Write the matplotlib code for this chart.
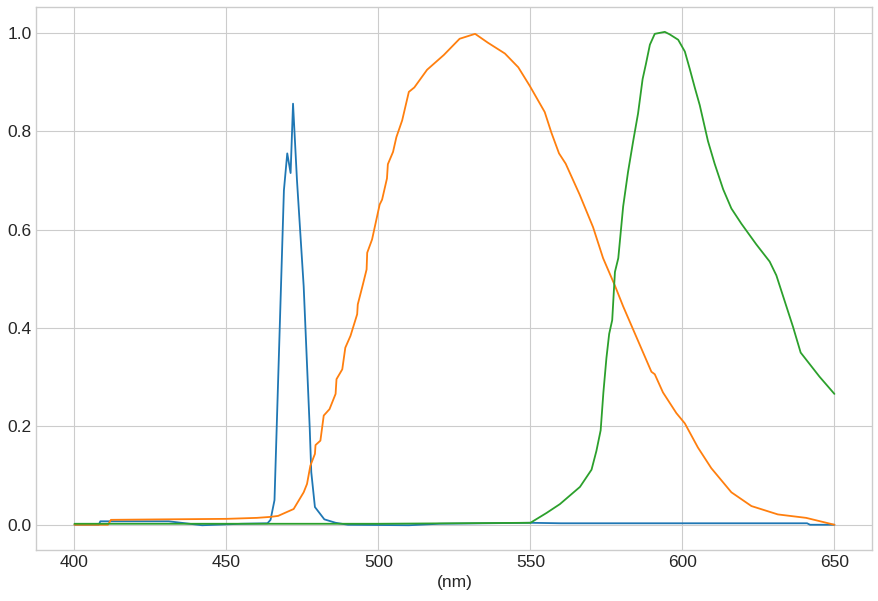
import matplotlib
matplotlib.use('Agg')
import matplotlib.pyplot as plt

plt.style.use('seaborn-v0_8-whitegrid')
plt.rcParams['font.family'] = ['Liberation Sans', 'DejaVu Sans']

# Blue channel response
wl_blue = [400, 408, 408.5, 431, 442, 455, 463.5, 464.5, 465.8, 468.9, 470, 471.1,
           471.9, 473.2, 475.4, 477.4, 477.9, 479.1, 482.2, 485.9, 490, 510, 520,
           550, 560, 600, 641, 642, 650]
resp_blue = [0, 0, 0.007, 0.007, -0.001, 0.002, 0.003, 0.01, 0.05, 0.68, 0.755, 0.715,
             0.856, 0.70, 0.485, 0.195, 0.107, 0.036, 0.011, 0.004, 0.0, -0.001, 0.002,
             0.004, 0.003, 0.003, 0.003, 0, 0]

# Green channel response (drawn orange)
wl_green = [400, 411, 412, 430, 450, 460, 464.5, 467, 472.1, 475.4, 476.5, 477.6, 479.1,
            479.3, 480.9, 482, 483.9, 485.9, 486.2, 488.1, 489.1, 490.8, 493, 493.2, 494.9,
            496.1, 496.3, 497.9, 500.4, 501.2, 502.8, 503.1, 504.8, 505.9, 507.8, 510,
            511.8, 516, 521.5, 526.7, 531.8, 536, 541.6, 546, 549.8, 554.7, 556.9, 559.4,
            561.6, 566.2, 570.6, 573.9, 577.8, 580.5, 589.8, 590.9, 593.6, 598, 600.8,
            605.1, 609.5, 616.1, 622.7, 631.4, 640.7, 650]
resp_green = [0, 0, 0.010, 0.011, 0.012, 0.014, 0.016, 0.018, 0.032, 0.066, 0.083, 0.12,
              0.144, 0.162, 0.171, 0.222, 0.235, 0.266, 0.296, 0.316, 0.36, 0.384, 0.428,
              0.448, 0.489, 0.519, 0.553, 0.58, 0.651, 0.661, 0.704, 0.733, 0.758, 0.788,
              0.822, 0.88, 0.889, 0.925, 0.955, 0.988, 0.998, 0.98, 0.958, 0.93, 0.892,
              0.839, 0.797, 0.755, 0.734, 0.671, 0.605, 0.542, 0.486, 0.444, 0.311, 0.306,
              0.269, 0.227, 0.206, 0.157, 0.115, 0.066, 0.038, 0.021, 0.014, 0]

# Red channel response (drawn green)
wl_red = [400, 450, 500, 550, 555.3, 559.7, 566.3, 570.1, 571.7, 573.1, 574, 575, 575.9,
          576.9, 577.8, 578.9, 580.5, 582.1, 583.8, 585.4, 586.9, 588, 589.3, 590.9, 594.2,
          595.8, 598.6, 600.8, 602.4, 604.1, 605.7, 608.4, 610.6, 613.4, 616.1, 619.4,
          624.3, 628.7, 630.9, 633.1, 636.4, 638.9, 645.1, 650]
resp_red = [0.002, 0.002, 0.002, 0.004, 0.024, 0.042, 0.077, 0.112, 0.15, 0.192, 0.269,
            0.339, 0.388, 0.416, 0.514, 0.542, 0.647, 0.717, 0.78, 0.836, 0.906, 0.937,
            0.976, 0.998, 1.002, 0.997, 0.986, 0.962, 0.927, 0.888, 0.853, 0.78, 0.734,
            0.682, 0.643, 0.612, 0.57, 0.535, 0.507, 0.465, 0.402, 0.35, 0.301, 0.266]

fig = plt.figure(figsize=(8.79, 6.01), dpi=100)
ax = fig.add_axes([0.0415, 0.085, 0.951, 0.903])

ax.plot(wl_blue, resp_blue, color='#1f77b4', lw=1.3)
ax.plot(wl_green, resp_green, color='#ff7f0e', lw=1.3)
ax.plot(wl_red, resp_red, color='#2ca02c', lw=1.3)

ax.tick_params(labelsize=12.5, colors='.15')
ax.set_xlabel('(nm)', fontsize=12.5, color='.15')

fig.savefig('out.png', dpi=100)
